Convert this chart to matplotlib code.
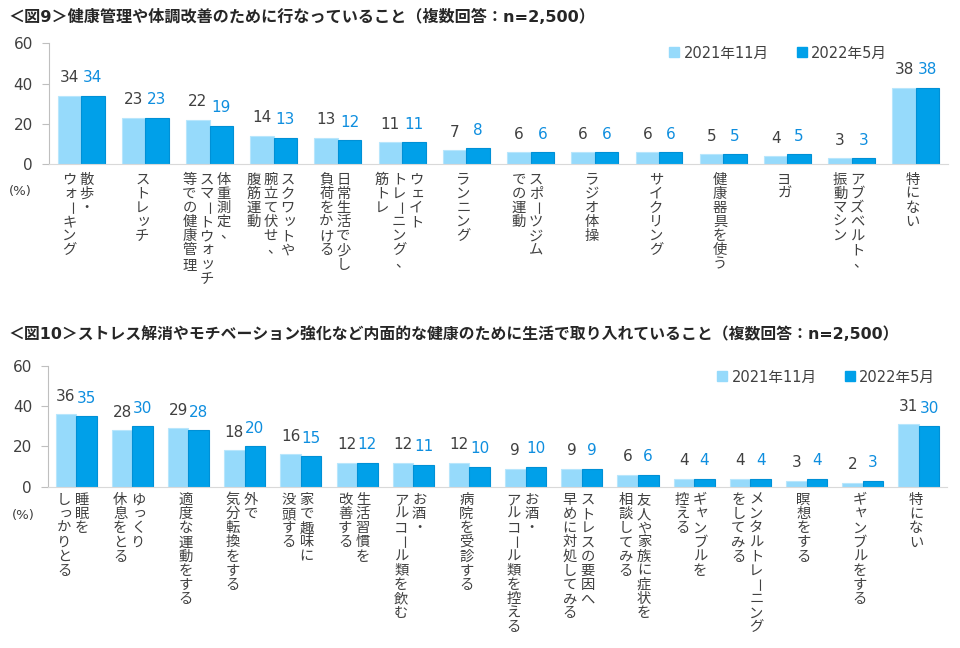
import matplotlib
matplotlib.use('Agg')
import matplotlib.pyplot as plt
from matplotlib.lines import Line2D
import numpy as np

plt.rcParams['font.family'] = ['DejaVu Sans', 'Noto Sans CJK JP']

# ---- data ----
series = ['2021年11月', '2022年5月']

title9 = '＜図9＞健康管理や体調改善のために行なっていること（複数回答：n=2,500）'
cats9 = ['散歩・\nウォーキング', 'ストレッチ', '体重測定、\nスマートウォッチ\n等での健康管理',
         'スクワットや\n腕立て伏せ、\n腹筋運動', '日常生活で少し\n負荷をかける',
         'ウェイト\nトレーニング、\n筋トレ', 'ランニング', 'スポーツジム\nでの運動', 'ラジオ体操',
         'サイクリング', '健康器具を使う', 'ヨガ', 'アブズベルト、\n振動マシン', '特にない']
v2021_9 = [34, 23, 22, 14, 13, 11, 7, 6, 6, 6, 5, 4, 3, 38]
v2022_9 = [34, 23, 19, 13, 12, 11, 8, 6, 6, 6, 5, 5, 3, 38]

title10 = '＜図10＞ストレス解消やモチベーション強化など内面的な健康のために生活で取り入れていること（複数回答：n=2,500）'
cats10 = ['睡眠を\nしっかりとる', 'ゆっくり\n休息をとる', '適度な運動をする', '外で\n気分転換をする',
          '家で趣味に\n没頭する', '生活習慣を\n改善する', 'お酒・\nアルコール類を飲む', '病院を受診する',
          'お酒・\nアルコール類を控える', 'ストレスの要因へ\n早めに対処してみる',
          '友人や家族に症状を\n相談してみる', 'ギャンブルを\n控える', 'メンタルトレーニング\nをしてみる',
          '瞑想をする', 'ギャンブルをする', '特にない']
v2021_10 = [36, 28, 29, 18, 16, 12, 12, 12, 9, 9, 6, 4, 4, 3, 2, 31]
v2022_10 = [35, 30, 28, 20, 15, 12, 11, 10, 10, 9, 6, 4, 4, 4, 3, 30]

yticks = [0, 20, 40, 60]

LIGHT = '#96DAFB'
DARK = '#00A0E9'
TXT = '#404040'
BLUE_TXT = '#0E8EDF'
SMALL = set('ッャュョォェィァっゃゅょぁぃぅぇぉ')


def vlabel(ax, x, text, top_pt, pitch=10.2, colgap=12.6, xshift=-2.2):
    # vertical Japanese text: columns right to left, characters top to bottom
    cols = text.split('\n')
    n = len(cols)
    for k, col in enumerate(cols):
        dx = xshift + ((n - 1) / 2 - k) * colgap
        for j, ch in enumerate(col):
            ox, oy, rot = 0, 0, 0
            if ch == 'ー':
                rot = 270
            if ch in SMALL:
                ox, oy = 1.0, 0.8
            if ch == '、':
                ox, oy = 2.5, 1.2
            ax.annotate(ch, xy=(x, 0), xycoords=('data', 'axes fraction'),
                        xytext=(dx + ox, -top_pt - j * pitch + oy), textcoords='offset points',
                        ha='center', va='center', fontsize=10.3, color=TXT, rotation=rot,
                        family='Noto Sans CJK JP', annotation_clip=False)


def draw(ax, cats, a, b, top_pt, colgap):
    x = np.arange(len(cats))
    w = 0.365
    ax.bar(x - w / 2, a, w, color=LIGHT, edgecolor='#B8E6FC', linewidth=0.8)
    ax.bar(x + w / 2, b, w, color=DARK, edgecolor='#0090D6', linewidth=0.8)
    for i in range(len(cats)):
        ax.annotate(str(a[i]), xy=(x[i] - w / 2, a[i]), xytext=(0, 13), textcoords='offset points',
                    ha='center', va='center', fontsize=11, color=TXT)
        ax.annotate(str(b[i]), xy=(x[i] + w / 2, b[i]), xytext=(0, 13), textcoords='offset points',
                    ha='center', va='center', fontsize=11, color=BLUE_TXT)
        vlabel(ax, x[i], cats[i], top_pt, colgap=colgap)
    ax.set_xlim(-0.5, len(cats) - 0.5)
    ax.set_ylim(0, 60)
    ax.set_yticks(yticks)
    ax.set_xticks([])
    ax.tick_params(axis='y', length=5, width=0.8, color='#BFBFBF', pad=6.5, labelsize=11, labelcolor=TXT)
    for s in ['top', 'right']:
        ax.spines[s].set_visible(False)
    ax.spines['left'].set_color('#BFBFBF')
    ax.spines['bottom'].set_color('#D9D9D9')


fig = plt.figure(figsize=(9.6, 6.48), dpi=100)
ax1 = fig.add_axes([0.051, 0.7465, 0.9365, 0.1867])
ax2 = fig.add_axes([0.050, 0.2489, 0.9365, 0.1867])

draw(ax1, cats9, v2021_9, v2022_9, 11, 12.3)
draw(ax2, cats10, v2021_10, v2022_10, 9.5, 12.9)

fig.text(8 / 960, 1 - 17 / 648, title9, fontsize=11.6, fontweight='bold', color='#262626', va='center')
fig.text(8 / 960, 1 - 334 / 648, title10, fontsize=11.4, fontweight='bold', color='#262626', va='center')
fig.text(20 / 960, 1 - 191 / 648, '(%)', fontsize=9.5, color=TXT, ha='center', va='center')
fig.text(23 / 960, 1 - 516 / 648, '(%)', fontsize=9.5, color=TXT, ha='center', va='center')

handles = [Line2D([], [], marker='s', linestyle='none', markersize=7, color=LIGHT),
           Line2D([], [], marker='s', linestyle='none', markersize=7, color=DARK)]
for anchor in [(669 / 960, 1 - 53 / 648), (717 / 960, 1 - 377 / 648)]:
    fig.legend(handles, series, loc='center left', bbox_to_anchor=anchor, ncol=2, frameon=False,
               fontsize=10.5, handlelength=0.7, handletextpad=0.3, columnspacing=1.9,
               borderpad=0, borderaxespad=0, labelcolor=TXT)

fig.savefig('out.png', dpi=100)
